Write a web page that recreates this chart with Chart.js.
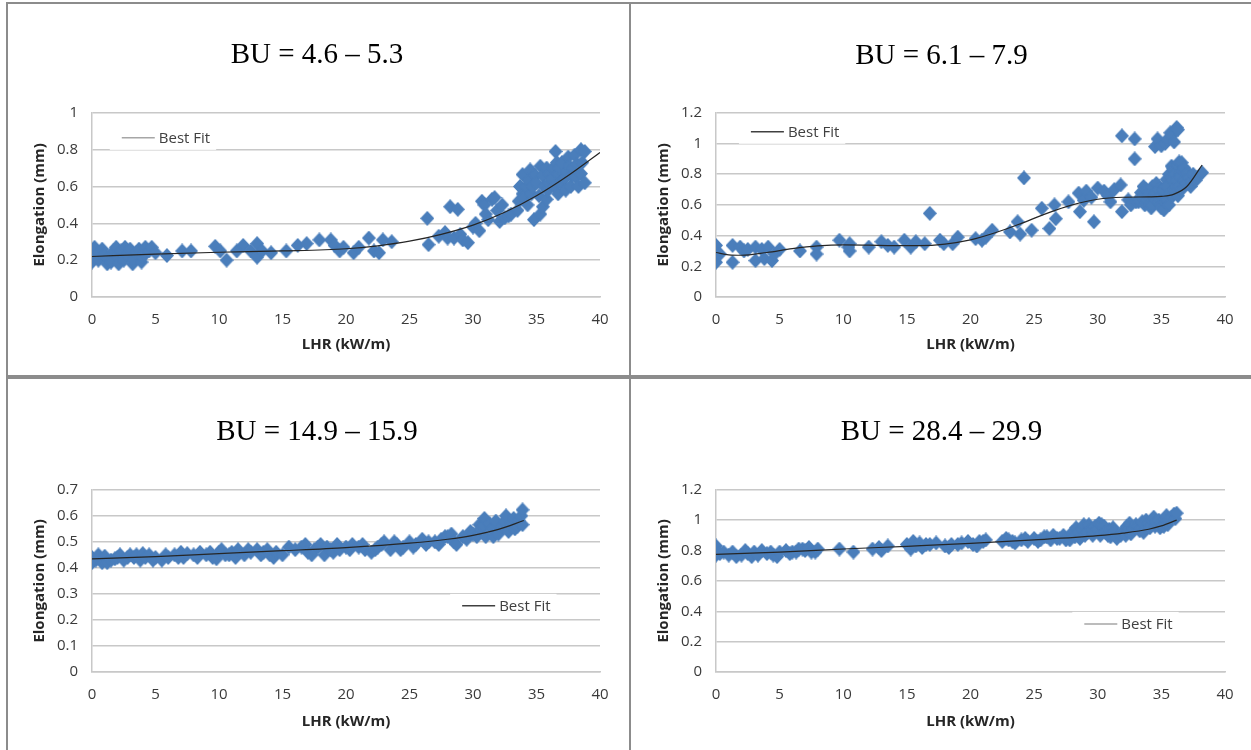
<!DOCTYPE html>
<html>
<head>
<meta charset="utf-8">
<title>Elongation vs LHR</title>
<script src="https://cdn.jsdelivr.net/npm/chart.js@4.4.0/dist/chart.umd.min.js"></script>
<style>
  body { margin: 0; background: #fff; width: 1251px; height: 750px; overflow: hidden; position: relative; }
  .frame { position: absolute; box-sizing: border-box; border: 2px solid #8c8c8c; }
  .plot { position: absolute; }
</style>
</head>
<body>
<div class="frame" style="left:6px;top:2px;width:625px;height:375px"></div>
<div class="frame" style="left:629px;top:2px;width:640px;height:375px"></div>
<div class="frame" style="left:6px;top:377px;width:625px;height:400px"></div>
<div class="frame" style="left:629px;top:377px;width:640px;height:400px"></div>

<div class="plot" style="left:8px;top:5px"><canvas id="c1" width="620" height="369"></canvas></div>
<div class="plot" style="left:632px;top:5px"><canvas id="c2" width="619" height="369"></canvas></div>
<div class="plot" style="left:8px;top:380px"><canvas id="c3" width="620" height="370"></canvas></div>
<div class="plot" style="left:632px;top:380px"><canvas id="c4" width="619" height="370"></canvas></div>

<script>
// measured points [LHR, elongation] per burnup range
const bu46Points = [
  [0,0.19],[0,0.22],[0,0.25],[0.2,0.27],[0.5,0.2],[0.6,0.24],[0.8,0.26],[1,0.23],[1.2,0.18],[1.3,0.21],
  [1.5,0.19],[1.7,0.25],[1.9,0.27],[2,0.22],[2.1,0.18],[2.3,0.25],[2.5,0.2],[2.6,0.27],[2.8,0.23],[3,0.26],
  [3.2,0.18],[3.3,0.2],[3.5,0.24],[3.7,0.26],[3.9,0.19],[4,0.22],[4.1,0.24],[4.2,0.27],[4.5,0.25],[4.7,0.27],
  [5,0.24],[5.9,0.225],[7.1,0.25],[7.8,0.25],[9.7,0.275],[10.1,0.25],[10.6,0.2],[11.4,0.25],[11.9,0.28],[12.5,0.25],
  [13,0.29],[13,0.216],[13.4,0.25],[14.1,0.24],[15.3,0.25],[16.2,0.28],[16.9,0.29],[17.9,0.31],[18.8,0.31],[19.1,0.28],
  [19.5,0.25],[19.8,0.27],[20.6,0.24],[21,0.27],[21.8,0.32],[22.2,0.25],[22.6,0.24],[22.9,0.31],[23.6,0.3],[26.4,0.427],
  [26.5,0.284],[27.3,0.33],[27.8,0.35],[28,0.32],[28.2,0.49],[28.5,0.32],[28.8,0.476],[29,0.34],[29.2,0.31],[29.6,0.295],
  [30,0.38],[30.2,0.4],[30.5,0.36],[30.7,0.52],[30.9,0.5],[31,0.45],[31.2,0.42],[31.5,0.53],[31.7,0.54],[31.9,0.47],
  [32.1,0.41],[32.3,0.5],[32.5,0.43],[32.8,0.44],[33,0.45],[33.5,0.47],[33.6,0.52],[33.7,0.6],[33.9,0.56],[33.9,0.665],
  [34,0.54],[34.2,0.6],[34.3,0.5],[34.4,0.63],[34.5,0.69],[34.6,0.56],[34.7,0.6],[34.8,0.42],[34.9,0.66],[35,0.62],
  [35.2,0.55],[35.3,0.71],[35.3,0.45],[35.5,0.49],[35.5,0.66],[35.6,0.6],[35.8,0.53],[35.8,0.7],[35.9,0.58],[36,0.67],
  [36,0.62],[36.2,0.64],[36.3,0.7],[36.4,0.6],[36.5,0.79],[36.6,0.73],[36.7,0.67],[36.7,0.56],[36.8,0.7],[36.9,0.62],
  [37,0.73],[37.2,0.64],[37.3,0.58],[37.4,0.68],[37.5,0.76],[37.6,0.71],[37.7,0.6],[37.8,0.66],[37.9,0.7],[38,0.77],
  [38.1,0.65],[38.2,0.72],[38.3,0.6],[38.5,0.8],[38.5,0.67],[38.6,0.73],[38.8,0.79],[38.8,0.62]
];
const bu61Points = [
  [0,0.3],[0,0.226],[0,0.336],[0.3,0.28],[1.3,0.336],[1.3,0.226],[1.9,0.325],[2.2,0.3],[2.5,0.31],[3.1,0.325],
  [3.1,0.237],[3.6,0.31],[3.8,0.25],[4.1,0.325],[4.4,0.237],[4.6,0.28],[5,0.31],[6.6,0.3],[7.9,0.325],[7.9,0.28],
  [9.7,0.37],[10.4,0.325],[10.5,0.347],[10.5,0.3],[12,0.325],[13,0.36],[13.5,0.336],[14,0.325],[14.8,0.37],[15.3,0.325],
  [15.7,0.36],[16.4,0.347],[16.8,0.545],[17.6,0.37],[17.9,0.347],[18.6,0.347],[19,0.39],[20.4,0.38],[20.9,0.37],[21.2,0.39],
  [21.7,0.435],[23.1,0.424],[23.7,0.49],[23.9,0.41],[24.2,0.776],[24.8,0.435],[25.6,0.578],[26.2,0.446],[26.6,0.6],[26.7,0.51],
  [27.7,0.62],[28.5,0.677],[28.6,0.556],[28.9,0.63],[29.1,0.69],[29.5,0.65],[29.7,0.49],[30,0.71],[30.5,0.69],[30.8,0.66],
  [31,0.62],[31.3,0.7],[31.8,0.73],[31.9,1.05],[31.9,0.556],[32.4,0.633],[32.6,0.6],[32.9,1.03],[32.9,0.9],[33,0.62],
  [33.2,0.62],[33.3,0.633],[33.4,0.68],[33.5,0.65],[33.6,0.72],[33.7,0.6],[33.8,0.7],[33.8,0.62],[33.9,0.633],[34,0.68],
  [34,0.66],[34.1,0.6],[34.2,0.58],[34.3,0.72],[34.3,0.6],[34.4,0.66],[34.5,0.68],[34.5,0.98],[34.6,0.633],[34.6,0.74],
  [34.7,1.03],[34.8,0.7],[34.8,0.62],[34.9,0.64],[35,0.985],[35,0.6],[35,0.66],[35,0.58],[35.1,0.7],[35.2,0.567],
  [35.2,0.7],[35.3,0.62],[35.3,1.0],[35.4,0.765],[35.4,0.64],[35.4,0.72],[35.5,0.633],[35.5,0.72],[35.5,1.03],[35.6,0.8],
  [35.6,0.6],[35.7,1.07],[35.7,0.68],[35.8,0.853],[35.8,0.78],[35.8,1.05],[35.9,0.66],[35.9,0.76],[35.9,0.84],[36,1.01],
  [36,0.83],[36,0.7],[36.1,0.8],[36.2,1.105],[36.2,0.72],[36.2,0.76],[36.3,0.66],[36.3,0.86],[36.3,1.09],[36.4,0.72],
  [36.4,0.88],[36.5,0.81],[36.5,0.78],[36.6,0.875],[36.6,0.7],[36.7,0.82],[36.8,0.765],[36.8,0.84],[37,0.74],[37,0.8],
  [37.1,0.81],[37.2,0.78],[37.3,0.72],[37.4,0.754],[37.5,0.8],[37.7,0.76],[37.8,0.78],[38.2,0.81]
];
const bu149Points = [
  [0,0.44],[0,0.42],[0.3,0.43],[0.5,0.45],[0.8,0.42],[1,0.445],[1.2,0.42],[1.5,0.43],[1.8,0.435],[2,0.44],
  [2.2,0.45],[2.5,0.43],[2.8,0.44],[3,0.45],[3.3,0.44],[3.5,0.45],[3.8,0.43],[4,0.455],[4.2,0.44],[4.5,0.45],
  [4.8,0.43],[5,0.44],[5.5,0.43],[5.8,0.45],[6,0.44],[6.5,0.45],[6.8,0.44],[7,0.46],[7.2,0.44],[7.5,0.455],
  [8,0.45],[8.3,0.44],[8.5,0.46],[9,0.45],[9.3,0.46],[9.5,0.44],[9.8,0.435],[10,0.46],[10.2,0.47],[10.5,0.45],
  [10.8,0.45],[11,0.46],[11.3,0.44],[11.5,0.47],[12,0.45],[12.3,0.47],[12.5,0.46],[13,0.47],[13.3,0.45],[13.5,0.46],
  [13.8,0.47],[14,0.45],[14.3,0.44],[14.5,0.46],[15,0.45],[15.5,0.48],[16,0.47],[16.5,0.48],[16.8,0.49],[17,0.46],
  [17.3,0.45],[17.5,0.47],[17.8,0.48],[18,0.49],[18.3,0.45],[18.5,0.48],[18.8,0.47],[19,0.46],[19.3,0.49],[19.5,0.47],
  [20,0.48],[20.3,0.47],[20.5,0.49],[21,0.48],[21.3,0.49],[21.5,0.47],[22,0.46],[22.3,0.47],[22.5,0.48],[22.8,0.49],
  [23,0.5],[23.5,0.47],[23.8,0.5],[24,0.49],[24.3,0.47],[24.5,0.48],[25,0.5],[25.3,0.48],[25.5,0.49],[26,0.51],
  [26.3,0.49],[26.5,0.5],[27,0.5],[27.3,0.49],[27.5,0.51],[27.8,0.52],[28,0.52],[28.3,0.53],[28.5,0.5],[28.7,0.49],
  [29.2,0.52],[29.5,0.51],[29.8,0.54],[30,0.53],[30.3,0.52],[30.5,0.566],[30.6,0.55],[30.8,0.56],[30.9,0.59],[31,0.52],
  [31.3,0.57],[31.5,0.55],[31.6,0.52],[31.8,0.58],[32,0.53],[32.3,0.56],[32.5,0.58],[32.6,0.6],[32.8,0.54],[33,0.57],
  [33.2,0.59],[33.3,0.55],[33.5,0.56],[33.6,0.58],[33.8,0.6],[33.9,0.623],[33.9,0.566]
];
const bu284Points = [
  [0,0.83],[0,0.8],[0,0.77],[0.3,0.78],[0.6,0.79],[1,0.77],[1.3,0.79],[1.6,0.76],[2,0.77],[2.3,0.8],
  [2.5,0.78],[2.8,0.76],[3,0.79],[3.3,0.77],[3.6,0.8],[4,0.78],[4.3,0.79],[4.5,0.77],[4.8,0.76],[5,0.79],
  [5.5,0.8],[5.8,0.78],[6,0.79],[6.3,0.79],[6.5,0.81],[6.8,0.81],[7,0.8],[7.3,0.82],[7.5,0.79],[7.8,0.79],
  [8,0.81],[9.7,0.81],[10.8,0.79],[12.3,0.81],[12.8,0.82],[13,0.8],[13.5,0.83],[15,0.84],[15.3,0.81],[15.5,0.86],
  [15.7,0.83],[16,0.85],[16.2,0.82],[16.5,0.84],[16.8,0.84],[17.3,0.85],[18,0.83],[18.3,0.82],[18.5,0.84],[19,0.84],
  [19.3,0.85],[19.8,0.86],[20.2,0.84],[20.5,0.83],[20.7,0.86],[21,0.86],[21.2,0.87],[22.5,0.86],[22.8,0.88],[23,0.87],
  [23.3,0.86],[23.5,0.85],[24,0.87],[24.3,0.88],[24.5,0.86],[25,0.88],[25.3,0.86],[25.5,0.87],[25.8,0.89],[26,0.89],
  [26.3,0.87],[26.5,0.9],[26.8,0.88],[27,0.88],[27.3,0.9],[27.5,0.87],[27.8,0.87],[28,0.92],[28.2,0.89],[28.3,0.95],
  [28.5,0.92],[28.6,0.88],[28.8,0.94],[28.9,0.97],[29,0.9],[29.2,0.92],[29.3,0.97],[29.5,0.94],[29.6,0.93],[29.6,0.9],
  [29.8,0.96],[30,0.94],[30.1,0.98],[30.2,0.9],[30.3,0.97],[30.5,0.96],[30.6,0.92],[30.8,0.9],[30.9,0.94],[31,0.89],
  [31.2,0.95],[31.3,0.92],[31.5,0.88],[31.8,0.9],[32,0.93],[32.2,0.9],[32.3,0.96],[32.4,0.93],[32.5,0.98],[32.6,0.91],
  [32.8,0.94],[33,0.97],[33.2,0.96],[33.3,0.93],[33.4,0.95],[33.5,0.99],[33.6,0.92],[33.8,0.95],[33.8,1.0],[34,0.98],
  [34.1,0.95],[34.3,1.0],[34.4,1.02],[34.5,0.96],[34.6,0.99],[34.8,1.0],[34.9,0.95],[35,0.98],[35.1,0.963],[35.2,0.96],
  [35.3,1.01],[35.4,1.03],[35.5,0.97],[35.6,1.0],[35.8,1.02],[36,1.04],[36.1,1.01],[36.2,1.046]
];

// best fit curves read at fixed LHR values
const bu46FitX = [0, 5, 10, 15, 20, 22.5, 25, 27.5, 30, 32.5, 35, 37.5, 40];
const bu46FitY = [0.22, 0.233, 0.243, 0.25, 0.262, 0.278, 0.303, 0.34, 0.39, 0.46, 0.55, 0.66, 0.785];
const bu61FitX = [0, 1, 2, 4, 6, 8, 10, 12, 14, 16, 18, 20, 22, 24, 26, 28, 30, 32, 34, 35, 36, 37, 38.2];
const bu61FitY = [0.29, 0.275, 0.272, 0.29, 0.315, 0.333, 0.34, 0.338, 0.335, 0.335, 0.345, 0.372, 0.42, 0.48, 0.545, 0.6, 0.637, 0.65, 0.652, 0.655, 0.67, 0.72, 0.86];
const bu149FitX = [0, 5, 10, 15, 20, 25, 28, 30, 32, 34];
const bu149FitY = [0.435, 0.443, 0.455, 0.466, 0.478, 0.495, 0.51, 0.525, 0.548, 0.582];
const bu284FitX = [0, 5, 10, 15, 20, 25, 30, 32, 34, 35, 36.2];
const bu284FitY = [0.775, 0.79, 0.81, 0.828, 0.847, 0.87, 0.898, 0.915, 0.94, 0.962, 1.0];

const panelTitles = ['BU = 4.6 \u2013 5.3', 'BU = 6.1 \u2013 7.9', 'BU = 14.9 \u2013 15.9', 'BU = 28.4 \u2013 29.9'];
const yMaxes = [1, 1.2, 0.7, 1.2];
const ySteps = [0.2, 0.2, 0.1, 0.2];

const BLUE = '#4a7ebb';
const GRID = '#c8c8c8';
const TICK_FONT = { family: '"Open Sans"', size: 15 };
const AXIS_FONT = { family: '"Open Sans"', size: 15, weight: 'bold' };

// slightly tall diamond used as the marker
function diamond(w, h, color) {
  const c = document.createElement('canvas');
  c.width = w;
  c.height = h;
  const g = c.getContext('2d');
  g.fillStyle = color;
  g.beginPath();
  g.moveTo(w / 2, 0);
  g.lineTo(w, h / 2);
  g.lineTo(w / 2, h);
  g.lineTo(0, h / 2);
  g.closePath();
  g.fill();
  return c;
}
const marker = diamond(14, 15, BLUE);

// "Best Fit" key drawn inside the plot on a white patch
const fitLegend = {
  id: 'fitLegend',
  afterDraw(chart, args, opts) {
    const { ctx, chartArea: a } = chart;
    const x = a.left + opts.fx * (a.right - a.left);
    const y = a.top + opts.fy * (a.bottom - a.top);
    const label = chart.data.datasets[0].label;
    ctx.save();
    ctx.font = '15px "Open Sans"';
    const tw = ctx.measureText(label).width;
    ctx.fillStyle = '#fff';
    ctx.fillRect(x, y - 12, 12 + 33 + 4 + tw + 6, 24);
    ctx.strokeStyle = opts.color;
    ctx.lineWidth = 1.5;
    ctx.beginPath();
    ctx.moveTo(x + 12, y);
    ctx.lineTo(x + 45, y);
    ctx.stroke();
    ctx.fillStyle = '#404040';
    ctx.textBaseline = 'middle';
    ctx.fillText(label, x + 49, y + 1);
    ctx.restore();
  }
};

function makePanel(id, idx, points, fitX, fitY, legendPos, titlePad, xBottomPad) {
  const canvas = document.getElementById(id);
  const right = id === 'c1' || id === 'c3' ? 28 : 26;
  new Chart(canvas, {
    type: 'scatter',
    data: {
      datasets: [
        {
          type: 'line',
          label: 'Best Fit',
          data: fitX.map((x, i) => ({ x: x, y: fitY[i] })),
          borderColor: '#262626',
          borderWidth: 1.2,
          pointRadius: 0,
          cubicInterpolationMode: 'monotone',
          fill: false,
          order: 0
        },
        {
          label: 'Elongation',
          data: points.map(p => ({ x: p[0], y: p[1] })),
          pointStyle: marker,
          order: 1
        }
      ]
    },
    options: {
      responsive: false,
      animation: false,
      layout: { padding: { left: 26, right: right, top: 0, bottom: 0 } },
      plugins: {
        legend: { display: false },
        tooltip: { enabled: false },
        title: {
          display: true,
          text: panelTitles[idx],
          font: { family: '"Liberation Serif", "Times New Roman", serif', size: 29, weight: 'normal', lineHeight: 1.2 },
          color: '#000',
          padding: titlePad
        },
        fitLegend: legendPos
      },
      scales: {
        x: {
          type: 'linear',
          min: 0,
          max: 40,
          ticks: { stepSize: 5, padding: 14, color: '#3a3a3a', font: TICK_FONT },
          grid: { display: false, drawTicks: false },
          border: { display: true, color: GRID, width: 1.5 },
          title: {
            display: true,
            text: 'LHR (kW/m)',
            color: '#262626',
            font: AXIS_FONT,
            padding: { top: 0, bottom: xBottomPad }
          },
          afterFit(scale) { scale.height = canvas.height - 292; }
        },
        y: {
          min: 0,
          max: yMaxes[idx],
          ticks: {
            stepSize: ySteps[idx],
            padding: 14,
            color: '#3a3a3a',
            font: TICK_FONT,
            callback: v => String(parseFloat(v.toFixed(1)))
          },
          grid: { color: GRID, lineWidth: 1.5, drawTicks: false },
          border: { display: true, color: GRID, width: 1.5 },
          title: {
            display: true,
            text: 'Elongation (mm)',
            color: '#262626',
            font: AXIS_FONT,
            padding: { top: -3, bottom: 0 }
          },
          afterFit(scale) { scale.width = 58; }
        }
      }
    },
    plugins: [fitLegend]
  });
}

makePanel('c1', 0, bu46Points, bu46FitX, bu46FitY, { fx: 0.035, fy: 0.136, color: '#a6a6a6' }, { top: 33, bottom: 40 }, 20);
makePanel('c2', 1, bu61Points, bu61FitX, bu61FitY, { fx: 0.045, fy: 0.103, color: '#404040' }, { top: 34, bottom: 39 }, 20);
makePanel('c3', 2, bu149Points, bu149FitX, bu149FitY, { fx: 0.705, fy: 0.637, color: '#404040' }, { top: 35, bottom: 40 }, 19);
makePanel('c4', 3, bu284Points, bu284FitX, bu284FitY, { fx: 0.70, fy: 0.736, color: '#a6a6a6' }, { top: 35, bottom: 40 }, 19);
</script>
</body>
</html>
